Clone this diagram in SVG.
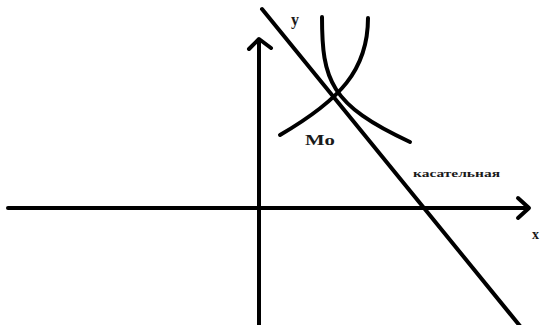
<svg xmlns="http://www.w3.org/2000/svg" width="540" height="325" viewBox="0 0 540 325">
<style>
.ln{fill:none;stroke:#000;stroke-width:4;stroke-linecap:round;stroke-linejoin:round}
.lb{font-family:"Liberation Serif","Times New Roman",serif;font-weight:bold;fill:#1a1a1a}
</style>
<rect width="540" height="325" fill="#fff"/>
<g id="connectors">
<g id="x-axis"><path class="ln" d="M8,208 H528"/><path class="ln" d="M518,198 L529,208 L518,218"/></g>
<g id="y-axis"><path class="ln" d="M259,325 V40"/><path class="ln" d="M249,49 L259,39 L271,48"/></g>
<g id="tangent"><path class="ln" d="M262,9 L520,326"/></g>
<g id="curve1"><path class="ln" d="M322,17 C322,80 330,105 410,142"/></g>
<g id="curve2"><path class="ln" d="M368,18 C368,70 340,100 280,135"/></g>
</g>
<g id="label-y"><text class="lb" x="291" y="25" font-size="16">y</text></g>
<g id="label-M0"><text class="lb" x="305" y="145" font-size="14" textLength="30" lengthAdjust="spacingAndGlyphs">Mo</text></g>
<g id="label-tangent"><text class="lb" x="413" y="177" font-size="11" textLength="87" lengthAdjust="spacingAndGlyphs">касательная</text></g>
<g id="label-x"><text class="lb" x="532" y="239" font-size="14">x</text></g>
</svg>
